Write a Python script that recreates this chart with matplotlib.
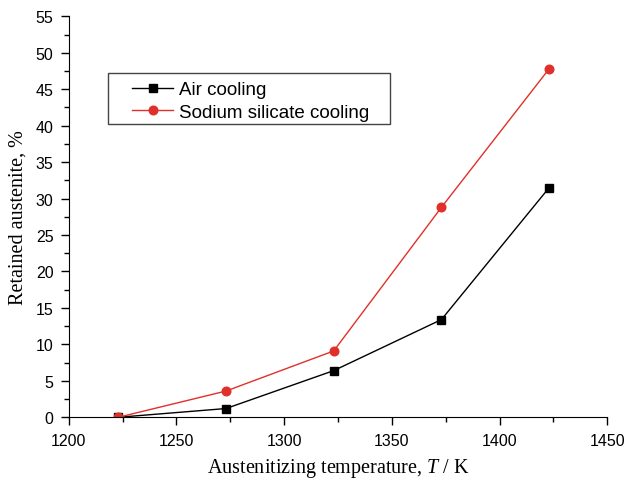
import matplotlib
matplotlib.use("Agg")
import matplotlib.pyplot as plt
from matplotlib.patches import Rectangle
from matplotlib.ticker import MultipleLocator

plt.rcParams["mathtext.fontset"] = "custom"
plt.rcParams["mathtext.it"] = "Liberation Serif:italic"
plt.rcParams["mathtext.rm"] = "Liberation Serif"

temperature = [1223, 1273, 1323, 1373, 1423]
air_cooling = [0.0, 1.2, 6.4, 13.4, 31.5]
sodium_silicate = [0.0, 3.6, 9.1, 28.8, 47.8]
series_labels = ["Air cooling", "Sodium silicate cooling"]

fig = plt.figure(figsize=(6.25, 4.81), dpi=100)
ax = fig.add_axes([0.11, 0.1304, 0.8617, 0.8336])

ax.plot(temperature, air_cooling, color="black", lw=1.0, marker="s",
        ms=5.8, mec="black", mfc="black", label=series_labels[0])
ax.plot(temperature, sodium_silicate, color="#e0302a", lw=1.0, marker="o",
        ms=6.2, mec="#e0302a", mfc="#e0302a", label=series_labels[1])

ax.set_xlim(1200, 1450)
ax.set_ylim(0, 55)
ax.xaxis.set_major_locator(MultipleLocator(50))
ax.xaxis.set_minor_locator(MultipleLocator(25))
ax.yaxis.set_major_locator(MultipleLocator(5))
ax.yaxis.set_minor_locator(MultipleLocator(2.5))
for s in ("top", "right"):
    ax.spines[s].set_visible(False)
ax.tick_params(which="major", direction="out", length=6, width=1,
               labelsize=11.5, pad=5)
ax.tick_params(which="minor", direction="out", length=3.5, width=1)
for lab in ax.get_xticklabels() + ax.get_yticklabels():
    lab.set_family("Liberation Sans")

serif = "Liberation Serif"
ax.set_xlabel("Austenitizing temperature, $\\mathit{T}$ / K", fontsize=14.5,
              family=serif, labelpad=6)
ax.set_ylabel("Retained austenite, %", fontsize=14.5, family=serif, labelpad=6)

# legend frame drawn as a separate box
ax.add_patch(Rectangle((0.073, 0.7314), 0.5236, 0.1272, transform=ax.transAxes,
                       fill=False, edgecolor="#444444", lw=1.0, clip_on=False,
                       zorder=4))
leg = ax.legend(loc="upper left", bbox_to_anchor=(0.1001, 0.862),
                prop={"family": "Liberation Sans", "size": 13.5},
                frameon=False, handlelength=2.2, handletextpad=0.3,
                borderpad=0.5, labelspacing=0.3, borderaxespad=0)

fig.savefig("out.png", dpi=100)
